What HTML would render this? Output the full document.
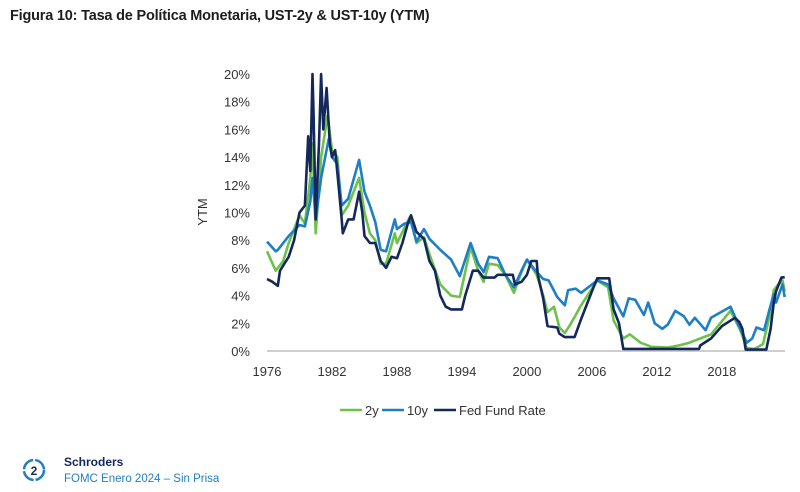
<!DOCTYPE html>
<html><head><meta charset="utf-8"><style>
body{margin:0;width:800px;height:492px;background:#fff;font-family:"Liberation Sans",sans-serif;overflow:hidden;position:relative}
#title{position:absolute;left:10px;top:8px;font-size:14.5px;font-weight:bold;color:#1d1d1b;letter-spacing:-0.2px}
svg{position:absolute;left:0;top:0}
</style></head><body>
<div id="title">Figura 10: Tasa de Política Monetaria, UST-2y &amp; UST-10y (YTM)</div>
<svg id="chart" width="800" height="492"></svg>
<script>
const yTicks=[0,2,4,6,8,10,12,14,16,18,20];
const xTicks=[1976,1982,1988,1994,2000,2006,2012,2018];
const fedX=[1976,1976.5,1977,1977.2,1978,1978.5,1979,1979.5,1979.8,1980,1980.2,1980.3,1980.5,1980.8,1981,1981.2,1981.5,1981.8,1982,1982.3,1982.6,1982.9,1983,1983.5,1984,1984.5,1984.8,1985,1985.5,1986,1986.5,1987,1987.5,1988,1988.5,1989,1989.3,1989.8,1990.5,1991,1991.5,1992,1992.5,1993,1994,1994.3,1995,1995.5,1996,1997,1997.3,1998.7,1998.9,1999.5,2000,2000.4,2000.9,2001,2001.5,2001.9,2002.8,2003,2003.5,2004.4,2005,2006,2006.5,2007.6,2008,2008.5,2008.9,2015.9,2016,2017,2018,2019.2,2019.6,2019.9,2020.2,2022.1,2022.5,2022.8,2023,2023.5,2023.8];
const fedY=[5.2,5,4.7,5.8,6.8,8,10,10.5,15.5,13,20,17,9.5,15,20,16,19,15,14,14.5,12,9.5,8.5,9.5,9.5,11.5,10,8.3,7.8,7.8,6.5,6,6.8,6.7,7.8,9.2,9.8,8.6,8.1,6.5,5.8,4,3.2,3,3,4,5.8,5.8,5.3,5.3,5.5,5.5,4.8,5,5.5,6.5,6.5,5.5,3.8,1.8,1.7,1.25,1,1,2.3,4.3,5.25,5.25,3,2,0.15,0.15,0.4,0.9,1.8,2.4,2.1,1.6,0.1,0.1,1.6,3.5,4.3,5.3,5.33];
const t10X=[1976,1976.8,1977,1978,1979,1979.5,1980,1980.2,1980.5,1981,1981.7,1982,1982.5,1982.9,1983.5,1984.5,1985,1985.5,1986,1986.5,1987,1987.8,1988,1988.7,1989.3,1989.8,1990.5,1991,1992,1993,1993.8,1994.8,1995.5,1996,1996.5,1997.3,1998,1998.8,1999.5,2000,2000.8,2001.5,2002,2002.8,2003.5,2003.8,2004.5,2005,2006.5,2007.5,2008,2008.9,2009.4,2010,2010.8,2011.2,2011.8,2012.5,2013,2013.7,2014.5,2015,2015.5,2016.5,2017,2018.8,2019.7,2020.3,2020.8,2021.2,2021.9,2022.4,2022.8,2023,2023.6,2023.8];
const t10Y=[7.9,7.2,7.3,8.3,9.1,9,10.8,12.5,9.5,12.5,15.3,14,13.5,10.5,11,13.8,11.5,10.5,9.3,7.3,7.2,9.5,8.8,9.2,9.3,7.9,8.8,8.1,7.3,6.6,5.4,7.8,6.3,5.7,6.8,6.7,5.5,4.6,5.8,6.6,5.8,5.2,5.1,3.9,3.3,4.4,4.5,4.2,5.1,4.8,3.8,2.5,3.8,3.7,2.6,3.5,2,1.6,1.9,2.9,2.5,1.9,2.4,1.5,2.4,3.2,1.6,0.6,0.9,1.7,1.5,3,4.1,3.5,4.8,3.9];
const t2X=[1976,1976.8,1977.5,1978,1979,1979.5,1980,1980.2,1980.5,1981,1981.6,1982,1982.5,1982.9,1983.5,1984.5,1985,1985.5,1986,1986.5,1987,1987.8,1988,1989.2,1989.8,1990.5,1991,1992,1993,1993.8,1994.8,1995.5,1996,1996.5,1997.3,1998,1998.8,1999.5,2000,2000.9,2001.5,2001.9,2002.5,2003,2003.5,2004,2004.5,2005,2006.5,2007.5,2008,2008.9,2009.5,2010.5,2011.5,2013,2014,2015,2016,2017,2018.8,2019.7,2020.3,2021,2021.8,2022.4,2022.8,2023.2,2023.4,2023.6,2023.8];
const t2Y=[7.2,5.8,6.5,7.8,9.8,9.2,12.5,15,8.5,14,17,14.5,14,9.8,10.5,12.5,10,8.5,8,6.3,6.3,8.5,7.8,9.7,7.8,8.2,7,4.8,4,3.9,7.5,5.8,5,6.3,6.2,5.5,4.2,5.7,6.6,5.5,4,2.8,3.2,1.7,1.3,1.9,2.6,3.3,5.1,4.6,2.2,0.9,1.2,0.6,0.3,0.25,0.4,0.6,0.9,1.2,2.9,1.5,0.2,0.15,0.5,2.5,4.4,4.8,4.9,5.1,4.3];

const svg=document.getElementById('chart');
const NS='http://www.w3.org/2000/svg';
const X0=267,PX=10.83,Y0=351,PY=13.85;
function xs(y){return X0+(y-1976)*PX;}
function ys(v){return Y0-v*PY;}
function mk(tag,attrs){const e=document.createElementNS(NS,tag);for(const k in attrs)e.setAttribute(k,attrs[k]);svg.appendChild(e);return e;}

const base=mk('line',{x1:267,x2:785,y1:Y0,y2:Y0,stroke:'#bdbdbd','stroke-width':1.5});



yTicks.forEach(v=>{const t=mk('text',{x:250,y:ys(v)+5,'text-anchor':'end','font-size':13,fill:'#333'});t.textContent=v+'%';

});
xTicks.forEach(v=>{const t=mk('text',{x:xs(v),y:376,'text-anchor':'middle','font-size':13,fill:'#333'});t.textContent=v;

});
const yt=mk('text',{x:0,y:0,transform:'translate(207,212) rotate(-90)','text-anchor':'middle','font-size':13,fill:'#333'});yt.textContent='YTM';



function line(X,Y,color,name){const d=X.map((x,i)=>(i?'L':'M')+xs(x).toFixed(1)+','+ys(Y[i]).toFixed(1)).join('');
const p=mk('path',{d:d,fill:'none',stroke:color,'stroke-width':2.6,'stroke-linejoin':'round'});

}
line(t2X,t2Y,'#6cc24a','series-2y');
line(t10X,t10Y,'#1e7fc6','series-10y');
line(fedX,fedY,'#14285c','series-fed-fund-rate');

const leg=[['#6cc24a','2y',340],['#1e7fc6','10y',382],['#14285c','Fed Fund Rate',434]];
leg.forEach(l=>{const ln=mk('line',{x1:l[2],x2:l[2]+22,y1:410,y2:410,stroke:l[0],'stroke-width':2.5});


const t=mk('text',{x:l[2]+25,y:415,'font-size':13,fill:'#333'});t.textContent=l[1];

});

const c=mk('circle',{cx:34,cy:470,r:10,fill:'none',stroke:'#1e7fc6','stroke-width':2.5,'stroke-dasharray':'14 2'});


const n=mk('text',{x:34,y:475,'text-anchor':'middle','font-size':12,'font-weight':'bold',fill:'#14285c'});n.textContent='2';


const s=mk('text',{x:64,y:466,'font-size':12,'font-weight':'bold',fill:'#14285c'});s.textContent='Schroders';


const f=mk('text',{x:64,y:482,'font-size':11.5,fill:'#1e7fc6'});f.textContent='FOMC Enero 2024 – Sin Prisa';


</script>
</body></html>
